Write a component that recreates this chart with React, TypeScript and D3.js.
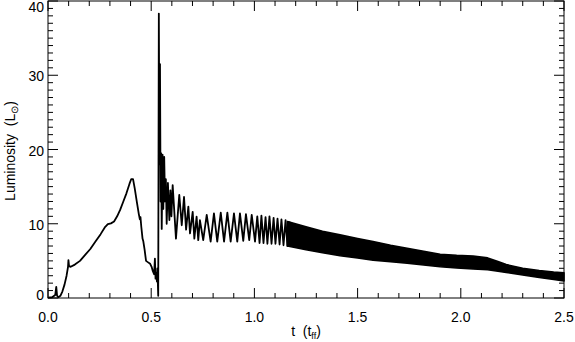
import React from "react";
import * as d3 from "d3";

// time in free-fall units, luminosity in solar units
const curveT = [
  0, 0.02, 0.035, 0.04, 0.044, 0.05, 0.06, 0.07, 0.08, 0.09, 0.097, 0.099, 0.102, 0.11,
  0.13, 0.155, 0.18, 0.205, 0.23, 0.255, 0.275, 0.29, 0.305, 0.32, 0.335, 0.35, 0.365,
  0.38, 0.395, 0.403, 0.412, 0.42, 0.43, 0.44, 0.445, 0.448, 0.452, 0.458, 0.462, 0.468,
  0.475, 0.485, 0.495, 0.502, 0.508, 0.514, 0.518, 0.521, 0.524, 0.528, 0.53, 0.534,
  0.537, 0.54, 0.5426, 0.5455, 0.548, 0.551, 0.555, 0.5586, 0.563, 0.567, 0.571, 0.575,
  0.581, 0.588, 0.593, 0.598, 0.604, 0.62, 0.636, 0.648, 0.659, 0.669, 0.68, 0.688,
  0.701, 0.709, 0.72, 0.728, 0.736, 0.752, 0.769, 0.788, 0.804, 0.82, 0.837, 0.853,
  0.869, 0.885, 0.901, 0.917, 0.93, 0.946, 0.959, 0.975, 0.987, 1.003, 1.014, 1.025,
  1.034, 1.044, 1.054, 1.063, 1.073, 1.083, 1.093, 1.102, 1.112, 1.122, 1.131, 1.141,
  1.151, 1.16, 1.17,
];
const curveL = [
  0.05, 0.1, 0.4, 1.5, 0.3, 0.1, 0.3, 0.9, 1.8, 3.0, 4.2, 5.1, 4.3, 4.2,
  4.5, 5.0, 5.8, 6.6, 7.6, 8.6, 9.5, 9.95, 10.05, 10.3, 11.0, 11.9, 13.0,
  14.1, 15.4, 16.0, 16.0, 14.8, 13.0, 11.3, 10.6, 10.9, 9.6, 8.0, 7.6, 6.5,
  5.0, 4.8, 4.6, 4.2, 3.6, 3.2, 5.3, 2.6, 3.3, 2.2, 4.0, 0.3,
  38.3, 18, 31.5, 13, 19.5, 9.3, 19.3, 12, 19.0, 13, 16, 10,
  15.5, 10.5, 14.5, 11, 15.2, 8.0, 13.9, 9.8, 13.6, 9.2, 12.3, 8.7,
  11.6, 8.0, 10.95, 7.8, 10.5, 7.8, 11.2, 7.6, 11.4, 7.6, 11.5, 7.6,
  11.5, 7.6, 11.4, 7.6, 11.4, 7.7, 11.3, 7.8, 11.2, 7.6, 11.0, 7.4,
  11.1, 7.4, 10.9, 7.3, 11.0, 7.3, 10.8, 7.3, 10.7, 7.2, 10.6, 7.1,
  10.5, 7.0, 10.3,
];

// the fast oscillation blurs into a solid band later on: its envelope
const bandT = [1.16, 1.25, 1.33, 1.415, 1.5, 1.575, 1.66, 1.74, 1.82, 1.9, 1.98, 2.06, 2.13, 2.18, 2.22, 2.3, 2.38, 2.45, 2.5];
const bandUpper = [10.3, 9.6, 9.0, 8.5, 8.0, 7.6, 7.1, 6.7, 6.3, 5.9, 5.75, 5.65, 5.4, 4.9, 4.5, 4.0, 3.7, 3.5, 3.4];
const bandLower = [7.0, 6.5, 6.1, 5.7, 5.4, 5.1, 4.9, 4.7, 4.45, 4.2, 4.05, 3.9, 3.8, 3.6, 3.45, 3.1, 2.75, 2.5, 2.3];

const xTicks = [0, 0.5, 1.0, 1.5, 2.0, 2.5];
const yTicks = [0, 10, 20, 30, 40];

const W = 575;
const H = 342;
const left = 48, right = 564, top = 1, bottom = 298;
const font = "'Liberation Sans', Helvetica, Arial, sans-serif";
const sp = "\u00a0\u00a0";

export default function App() {
  const x = d3.scaleLinear().domain([0, 2.5]).range([left, right]);
  const y = d3.scaleLinear().domain([0, 40]).range([bottom, top]);

  const pts = curveT.map((t, i) => [t, curveL[i]] as [number, number]);
  const line = d3.line<[number, number]>().x(d => x(d[0])).y(d => y(d[1]));

  const band = bandT.map((t, i) => ({ t, hi: bandUpper[i], lo: bandLower[i] }));
  const area = d3.area<{ t: number; hi: number; lo: number }>()
    .x(d => x(d.t)).y0(d => y(d.lo)).y1(d => y(d.hi));

  const xMinor = d3.range(0, 25.01, 1).map(v => v / 10);
  const yMinor = d3.range(0, 41, 1);

  return (
    <div style={{ position: "absolute", left: 0, top: 0 }}>
      <svg width={W} height={H} style={{ display: "block", background: "#fff" }}>
        {/* data */}
        <path d={area(band) || ""} fill="#000" stroke="#000" strokeWidth={1.6} strokeLinejoin="round" />
        <path d={line(pts) || ""} fill="none" stroke="#000" strokeWidth={1.8} strokeLinejoin="round" />

        {/* frame */}
        <rect x={left} y={top} width={right - left} height={bottom - top} fill="none" stroke="#000" strokeWidth={1} />

        {/* x ticks, bottom and top, pointing inwards */}
        {xMinor.map((v, i) => {
          const major = xTicks.some(m => Math.abs(m - v) < 1e-6);
          const len = major ? 10 : 5;
          return (
            <g key={"xt" + i} stroke="#000" strokeWidth={1}>
              <line x1={x(v)} x2={x(v)} y1={bottom} y2={bottom - len} />
              <line x1={x(v)} x2={x(v)} y1={top} y2={top + len} />
            </g>
          );
        })}
        {yMinor.map((v, i) => {
          const major = yTicks.includes(v);
          const len = major ? 10 : 5;
          return (
            <g key={"yt" + i} stroke="#000" strokeWidth={1}>
              <line x1={left} x2={left + len} y1={y(v)} y2={y(v)} />
              <line x1={right} x2={right - len} y1={y(v)} y2={y(v)} />
            </g>
          );
        })}

        {/* tick labels */}
        {xTicks.map(v => (
          <text key={"xl" + v} x={x(v)} y={322} textAnchor="middle" fontFamily={font} fontSize={14}>
            {d3.format(".1f")(v)}
          </text>
        ))}
        {yTicks.map(v => (
          <text key={"yl" + v} x={44} y={Math.min(Math.max(y(v) + 1, 6.5), 294.5)} textAnchor="end"
            dominantBaseline="central" fontFamily={font} fontSize={14}>
            {v}
          </text>
        ))}

        {/* axis titles */}
        <text x={306} y={336} textAnchor="middle" fontFamily={font} fontSize={14}>
          {"t" + sp + "(t"}<tspan fontSize={9} dy={3}>ff</tspan><tspan dy={-3}>)</tspan>
        </text>
        <text transform={`translate(15,151) rotate(-90)`} textAnchor="middle" fontFamily={font} fontSize={14}>
          {"Luminosity" + sp + "(L"}<tspan fontSize={10} dy={3}>⊙</tspan><tspan dy={-3}>)</tspan>
        </text>
      </svg>
    </div>
  );
}
